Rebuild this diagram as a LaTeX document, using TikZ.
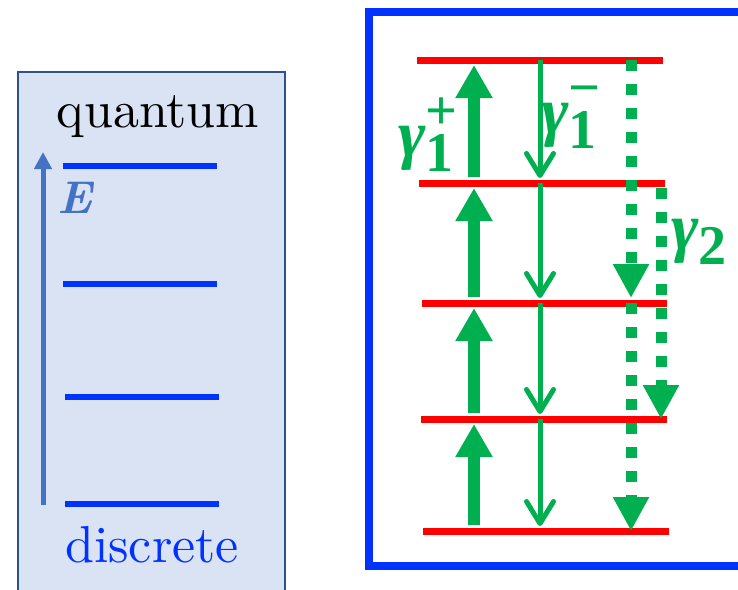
\documentclass[tikz,border=0pt]{standalone}
\usepackage{fontspec}
\newfontfamily\ratefont{Liberation Serif}
\usetikzlibrary{arrows.meta}
\definecolor{lvlblue}{HTML}{0033FF}
\definecolor{lvlred}{HTML}{FF0000}
\definecolor{rategreen}{HTML}{00B050}
\definecolor{axisblue}{HTML}{4472C4}
\definecolor{panelfill}{HTML}{DAE3F3}
\definecolor{paneledge}{HTML}{2F528F}
\newcommand{\ratesub}[2]{{\fontsize{8.5}{8.5}\selectfont\rlap{\raisebox{4pt}{#2}}\raisebox{-2.3pt}{#1}}}
\begin{document}
\begin{tikzpicture}[x=1pt, y=-1pt, every node/.style={inner sep=0pt},
    bluelevel/.style={lvlblue, line width=6pt},
    redlevel/.style={lvlred, line width=7pt},
    uprate/.style={rategreen, line width=12pt, -{Triangle[width=35pt,length=33pt]}, shorten <=6pt, shorten >=5pt},
    downrate/.style={rategreen, line width=5pt, -{Straight Barb[width=27pt,length=22pt,round]}, shorten >=5pt},
    skiprate/.style={rategreen, line width=11pt, dash pattern=on 11pt off 13pt, -{Triangle[width=34pt,length=34pt]}},
    ratelabel/.style={rategreen, anchor=base west, scale=6.6, font=\ratefont\bfseries}]
    \useasboundingbox (0,0) rectangle (738,589);
    % left panel: discrete levels
    \fill[panelfill, draw=paneledge, line width=1.5pt] (18,72) rectangle (285,620);
    \foreach \y/\a/\b in {166/63/217, 284/63/217, 397/65/219, 504/65/219}
        \draw[bluelevel] (\a,\y) -- (\b,\y);
    \coordinate (ebot) at (43,505);
    \coordinate (etop) at (43,152);
    \draw[axisblue, line width=5pt, -{Triangle[width=17pt,length=17pt]}] (ebot) -- (etop);
    \node[axisblue, anchor=base west, scale=4.6] (elabel) at (57,213) {\textbf{\textit{E}}};
    \node[anchor=base, scale=5.2] (qlabel) at (158,127) {quantum};
    \node[lvlblue, anchor=base, scale=5.2] (dlabel) at (152,562) {discrete};
    % right panel: rates between levels
    \draw[lvlblue, line width=8pt] (369,12) rectangle (780,566);
    \foreach \i/\y/\a/\b in {1/60/417/663, 2/183/419/665, 3/303/422/667, 4/419/421/667, 5/531/423/669} {
        \draw[redlevel] (\a,\y) -- (\b,\y);
        \coordinate (r\i) at (0,\y);
    }
    \coordinate (upcol) at (474,0);
    \coordinate (downcol) at (540,0);
    \coordinate (skipcol) at (631,0);
    \coordinate (skipcolb) at (661,0);
    \foreach \lo/\hi in {2/1, 3/2, 4/3, 5/4}
        \draw[uprate] (upcol |- r\lo) -- (upcol |- r\hi);
    \foreach \hi/\lo in {1/2, 2/3, 3/4, 4/5}
        \draw[downrate] (downcol |- r\hi) -- (downcol |- r\lo);
    \draw[skiprate, shorten >=5pt] (skipcol |- r1) -- (skipcol |- r3);
    \draw[skiprate] (skipcol |- r3) -- (skipcol |- r5);
    \draw[skiprate, shorten <=5pt] (skipcolb |- r2) -- (skipcolb |- r4);
    \node[ratelabel] (gplus) at (397,156) {\textit{γ}\ratesub{1}{+}};
    \node[ratelabel] (gminus) at (540,133) {\textit{γ}\ratesub{1}{−}};
    \node[ratelabel] (gtwo) at (670,249) {\textit{γ}\ratesub{2}{}};
\end{tikzpicture}
\end{document}
